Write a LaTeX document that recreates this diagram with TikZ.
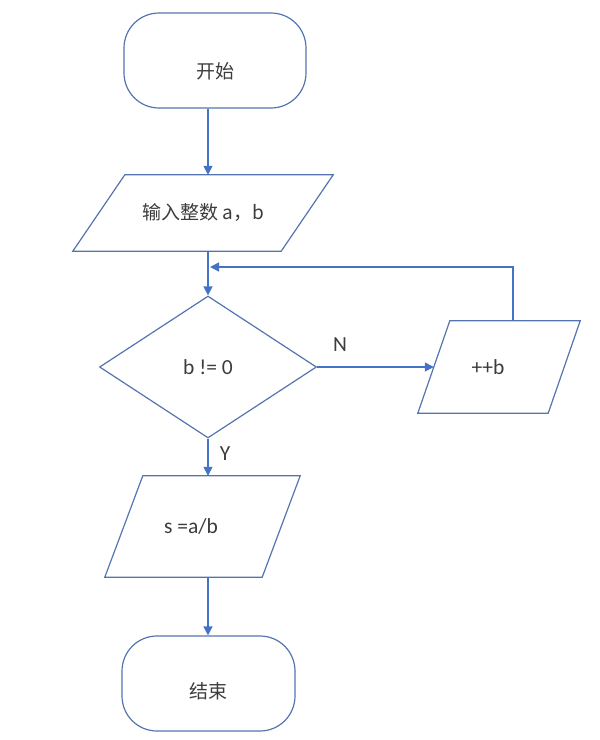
\documentclass[tikz,border=0pt]{standalone}
\usepackage{fontspec}
\setmainfont{Carlito}
\newfontfamily\cjk{Noto Sans CJK SC}
\usetikzlibrary{shapes.geometric,arrows.meta}
\definecolor{shapeblue}{RGB}{84,116,176}
\definecolor{arrowblue}{RGB}{68,114,196}
\definecolor{txtgray}{RGB}{60,60,60}
\tikzset{
  outline/.style={draw=shapeblue,line width=1.2pt,line join=miter},
  base/.style={text=txtgray,font=\fontsize{21.5}{25}\selectfont,inner sep=0pt},
  cjkfont/.style={font=\fontsize{19}{23}\selectfont\cjk},
  term/.style={base,cjkfont,outline,rectangle,rounded corners=35pt,minimum width=#1,minimum height=95pt},
  paranode/.style 2 args={base,rectangle,minimum width=#1,minimum height=#2},
  dec/.style={base,outline,diamond,minimum width=217pt,minimum height=142pt,aspect=1.53},
  arr/.style={draw=arrowblue,line width=1.4pt,-{Triangle[length=9pt,width=9pt]}},
  lbl/.style={text=txtgray,font=\fontsize{21.5}{25}\selectfont,inner sep=0pt}
}
\begin{document}
\begin{tikzpicture}[x=1pt,y=-1pt]
\useasboundingbox (0,0) rectangle (600,740);
\coordinate (col) at (208,0);
\node[term=182pt,text height=38pt,text depth=2pt] (start) at (215,60.5) {开始};
\node[paranode={260pt}{76pt},cjkfont] (in) at (203,213) {输入整数 a，b};
\draw[outline] (in.south west) -- ([xshift=52pt]in.north west) -- (in.north east) -- ([xshift=-52pt]in.south east) -- cycle;
\node[dec] (d) at (208,367) {b != 0};
\node[paranode={162pt}{92pt}] (pp) at (499,367) {\hspace*{-22pt}++b};
\draw[outline] (pp.south west) -- ([xshift=32pt]pp.north west) -- (pp.north east) -- ([xshift=-32pt]pp.south east) -- cycle;
\coordinate (ppin) at ([xshift=16pt]pp.west);
\node[paranode={195pt}{101pt}] (s) at (202.5,526.5) {\hspace*{-23pt}s =a/b};
\draw[outline] (s.south west) -- ([xshift=38pt]s.north west) -- (s.north east) -- ([xshift=-38pt]s.south east) -- cycle;
\node[term=173pt,text height=32pt,text depth=2pt] (stop) at (208.5,683.5) {结束};
\coordinate (loopx) at (513,0);
\coordinate (join) at (210,267);
\draw[arr] (start.south -| col) -- (in.north -| col);
\draw[arr] (in.south -| col) -- (d.north);
\draw[arr] (d.east) -- (ppin);
\draw[arr] (pp.north -| loopx) |- (join);
\draw[arr] (d.south) -- (s.north -| col);
\draw[arr] (s.south -| col) -- (stop.north -| col);
\node[lbl] (n) at (340,345) {N};
\node[lbl] (y) at (225,454) {Y};
\end{tikzpicture}
\end{document}
